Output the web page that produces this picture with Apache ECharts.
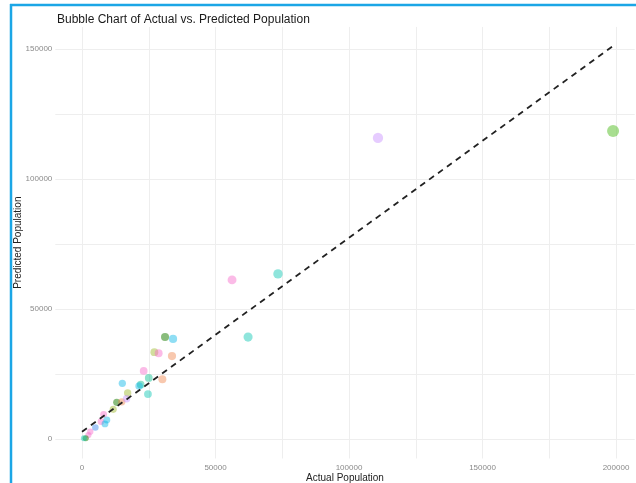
<!DOCTYPE html>
<html>
<head>
<meta charset="utf-8">
<script src="https://cdn.jsdelivr.net/npm/echarts@6/dist/echarts.min.js"></script>
<style>
html, body { margin: 0; padding: 0; background: #fff; }
#chart { width: 636px; height: 483px; }
</style>
</head>
<body>
<div id="chart"></div>
<script>
// actual / predicted population, one entry per bubble
var actual = [198900, 110850, 73400, 56200, 62200, 31100, 34100, 27100, 28700, 33700,
	23100, 25000, 30100, 15100, 22000, 21400, 24700, 17100, 13000, 14900,
	16700, 11700, 8100, 7100, 9300, 8600, 5000, 3100, 2400, 1400, 700];
var predicted = [118500, 115800, 63500, 61200, 39200, 39200, 38500, 33400, 33000, 31900,
	26200, 23500, 23000, 21400, 20900, 20400, 17300, 17700, 14100, 14300,
	15500, 11400, 9500, 6700, 7300, 5800, 4400, 2800, 1500, 300, 300];
// group of each bubble (colour)
var group = [0, 1, 2, 3, 2, 5, 4, 6, 3, 7,
	3, 9, 7, 4, 9, 4, 2, 6, 5, 7,
	1, 6, 3, 3, 4, 4, 8, 3, 3, 5, 2];
// fitted line end points
var fitX = [0, 198900];
var fitY = [2800, 151150];
var xTicks = [0, 50000, 100000, 150000, 200000];
var yTicks = [0, 50000, 100000, 150000];
var xGrid = [0, 25000, 50000, 75000, 100000, 125000, 150000, 175000, 200000];
var yGrid = [0, 25000, 50000, 75000, 100000, 125000, 150000];

var palette = [
	'rgba(110,200,70,0.75)',
	'rgba(199,140,255,0.55)',
	'rgba(0,196,175,0.55)',
	'rgba(245,100,200,0.55)',
	'rgba(0,180,230,0.55)',
	'rgba(70,150,50,0.8)',
	'rgba(160,185,50,0.6)',
	'rgba(240,130,70,0.55)',
	'rgba(70,140,240,0.6)',
	'rgba(0,190,140,0.55)'
];

var points = [];
for (var i = 0; i < actual.length; i++) {
	points.push({ value: [actual[i], predicted[i]], itemStyle: { color: palette[group[i]] } });
}
var fit = [];
for (var j = 0; j < fitX.length; j++) {
	fit.push([fitX[j], fitY[j]]);
}

function plain(v) {
	return String(v);
}

var myChart = echarts.init(document.getElementById('chart'));
var option = {
	animation: false,
	title: {
		text: 'Bubble Chart of Actual vs. Predicted Population',
		left: 52,
		top: 9,
		textStyle: { fontSize: 12, fontWeight: 'normal', color: '#1a1a1a', fontFamily: 'Liberation Sans' }
	},
	grid: { left: 55.3, right: 1.3, top: 26.9, bottom: 24.5, outerBoundsMode: 'none', containLabel: false },
	xAxis: {
		type: 'value',
		min: -10000,
		max: 207000,
		name: 'Actual Population',
		nameLocation: 'middle',
		nameGap: 15,
		nameMoveOverlap: false,
		nameTextStyle: { fontSize: 10, color: '#222', fontFamily: 'Liberation Sans' },
		axisLine: { show: false },
		axisTick: { show: false, customValues: xGrid },
		axisLabel: { customValues: xTicks, formatter: plain, fontSize: 8, color: '#8a8a8a', margin: 5, fontFamily: 'Liberation Sans' },
		splitLine: { show: true, lineStyle: { color: '#eeeeee', width: 1 } }
	},
	yAxis: {
		type: 'value',
		min: -7500,
		max: 158500,
		name: 'Predicted Population',
		nameLocation: 'middle',
		nameGap: 37,
		nameMoveOverlap: false,
		nameTextStyle: { fontSize: 10, color: '#222', fontFamily: 'Liberation Sans', verticalAlign: 'middle' },
		axisLine: { show: false },
		axisTick: { show: false, customValues: yGrid },
		axisLabel: { customValues: yTicks, formatter: plain, fontSize: 8, color: '#8a8a8a', margin: 3, fontFamily: 'Liberation Sans' },
		splitLine: { show: true, lineStyle: { color: '#eeeeee', width: 1 } }
	},
	graphic: [
		{ type: 'line', shape: { x1: 10, y1: 5, x2: 636, y2: 5 }, style: { stroke: '#1ba6e6', lineWidth: 2.5 } },
		{ type: 'line', shape: { x1: 11, y1: 4, x2: 11, y2: 483 }, style: { stroke: '#1ba6e6', lineWidth: 2.5 } }
	],
	series: [
		{
			type: 'scatter',
			data: points,
			symbolSize: function (v) {
				return 5.5 + 6.5 * Math.sqrt(v[0] / 200000);
			},
			z: 2
		},
		{
			type: 'line',
			data: fit,
			symbol: 'none',
			lineStyle: { color: '#222', width: 1.8, type: [6, 5] },
			z: 3
		}
	]
};
myChart.setOption(option);
</script>
</body>
</html>
